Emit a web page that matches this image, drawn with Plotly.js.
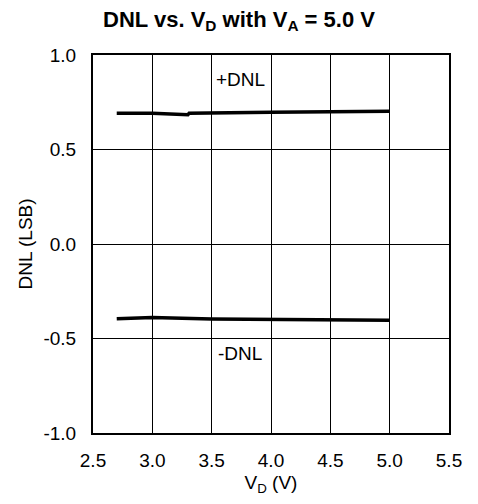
<!DOCTYPE html>
<html>
<head>
<meta charset="utf-8">
<script src="https://cdn.plot.ly/plotly-3.0.1.min.js"></script>
<style>html,body{margin:0;padding:0;background:#fff;}#chart{width:478px;height:504px;}</style>
</head>
<body>
<div id="chart"></div>
<script>
var vdPos = [2.7, 3.0, 3.3, 3.31, 4.0, 4.5, 5.0];
var dnlPos = [0.692, 0.692, 0.684, 0.692, 0.697, 0.700, 0.703];
var vdNeg = [2.7, 3.0, 3.5, 4.0, 4.5, 5.0];
var dnlNeg = [-0.395, -0.389, -0.397, -0.399, -0.401, -0.403];
var xTicks = [2.5, 3.0, 3.5, 4.0, 4.5, 5.0, 5.5];
var xTickText = ["2.5", "3.0", "3.5", "4.0", "4.5", "5.0", "5.5"];
var yTicks = [-1.0, -0.5, 0.0, 0.5, 1.0];
var yTickText = ["-1.0", "-0.5", "0.0", "0.5", "1.0"];

var font = "Liberation Sans, Arial, sans-serif";
var traces = [
  {x: vdPos, y: dnlPos, mode: "lines", line: {color: "#000", width: 3.5}, hoverinfo: "skip"},
  {x: vdNeg, y: dnlNeg, mode: "lines", line: {color: "#000", width: 3.5}, hoverinfo: "skip"}
];
var layout = {
  width: 478, height: 504,
  margin: {l: 93, r: 29, t: 55, b: 71},
  showlegend: false,
  paper_bgcolor: "#fff", plot_bgcolor: "#fff",
  font: {family: font, color: "#000", size: 19},
  title: {text: "<b>DNL vs. V<sub>D</sub> with V<sub>A</sub> = 5.0 V</b>", x: 0.5, xanchor: "center", y: 0.962, yanchor: "middle", font: {size: 22, family: font}},
  xaxis: {
    range: [2.5, 5.5], tickvals: xTicks, ticktext: xTickText,
    showgrid: true, gridcolor: "#000", gridwidth: 1,
    showline: true, linecolor: "#000", linewidth: 2, mirror: true,
    ticks: "", ticklabelstandoff: 9, zeroline: false,
    title: {text: "V<sub>D</sub> (V)", standoff: 6, font: {size: 19}}
  },
  yaxis: {
    range: [-1.0, 1.0], tickvals: yTicks, ticktext: yTickText,
    showgrid: true, gridcolor: "#000", gridwidth: 1,
    showline: true, linecolor: "#000", linewidth: 2, mirror: true,
    ticks: "", ticklabelstandoff: 11, zeroline: false,
    title: {text: "DNL (LSB)", standoff: 6, font: {size: 19}}
  },
  annotations: [
    {x: 3.52, y: 0.87, xanchor: "left", yanchor: "middle", text: "+DNL", showarrow: false, font: {size: 19}},
    {x: 3.54, y: -0.58, xanchor: "left", yanchor: "middle", text: "-DNL", showarrow: false, font: {size: 19}}
  ]
};
Plotly.newPlot("chart", traces, layout, {displayModeBar: false, staticPlot: true});
</script>
</body>
</html>
